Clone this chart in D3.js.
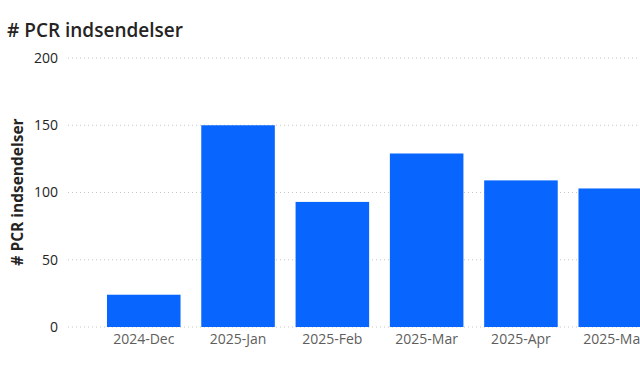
<!DOCTYPE html>
<html><head><meta charset="utf-8">
<script src="https://cdn.jsdelivr.net/npm/d3@7"></script>
<style>body{margin:0;background:#fff;overflow:hidden}svg{display:block}</style>
</head><body>
<svg id="c" width="640" height="369"></svg>
<script>
const categories = ["2024-Dec","2025-Jan","2025-Feb","2025-Mar","2025-Apr","2025-May"];
const values = [24, 150, 93, 129, 109, 103];
const yTicks = [0, 50, 100, 150, 200];
const title = "# PCR indsendelser";
const yTitle = "# PCR indsendelser";

const svg = d3.select("#c");
const y = d3.scaleLinear().domain([0, 200]).range([327, 58]);
const step = 94.3;
const x = d3.scaleBand().domain(categories).range([96.6, 96.6 + step * 6]).paddingInner(0.22).paddingOuter(0.11);

svg.append("text").attr("x", 7).attr("y", 37).text(title)
  .attr("font-family", "Open Sans").attr("font-weight", 600).attr("font-size", 19).attr("fill", "#252423");

// gridlines
svg.append("g").selectAll("line").data(yTicks).join("line")
  .attr("x1", 68).attr("x2", 640).attr("y1", d => y(d)).attr("y2", d => y(d))
  .attr("stroke", "#c8c6c4").attr("stroke-width", 1).attr("stroke-dasharray", "1,3");

// y axis labels
const ya = svg.append("g").attr("transform", "translate(58,0)")
  .call(d3.axisLeft(y).tickValues(yTicks).tickSize(0).tickPadding(0));
ya.select(".domain").remove();
ya.selectAll("text").attr("font-family", "Open Sans").attr("font-size", 14).attr("fill", "#252423");

svg.append("text").attr("transform", "translate(23,192) rotate(-90)").attr("text-anchor", "middle")
  .text(yTitle).attr("font-family", "Open Sans").attr("font-weight", 700).attr("font-size", 15.5).attr("fill", "#252423");

// bars
svg.append("g").selectAll("rect").data(values).join("rect")
  .attr("x", (d, i) => x(categories[i])).attr("width", x.bandwidth())
  .attr("y", d => y(d)).attr("height", d => y(0) - y(d)).attr("fill", "#0866FF");

// x axis
const xa = svg.append("g").attr("transform", "translate(0,334)")
  .call(d3.axisBottom(x).tickSize(0).tickPadding(0));
xa.select(".domain").remove();
xa.selectAll("text").attr("font-family", "Open Sans").attr("font-size", 14).attr("fill", "#605e5c").attr("dy", "0.71em");
</script>
</body></html>
